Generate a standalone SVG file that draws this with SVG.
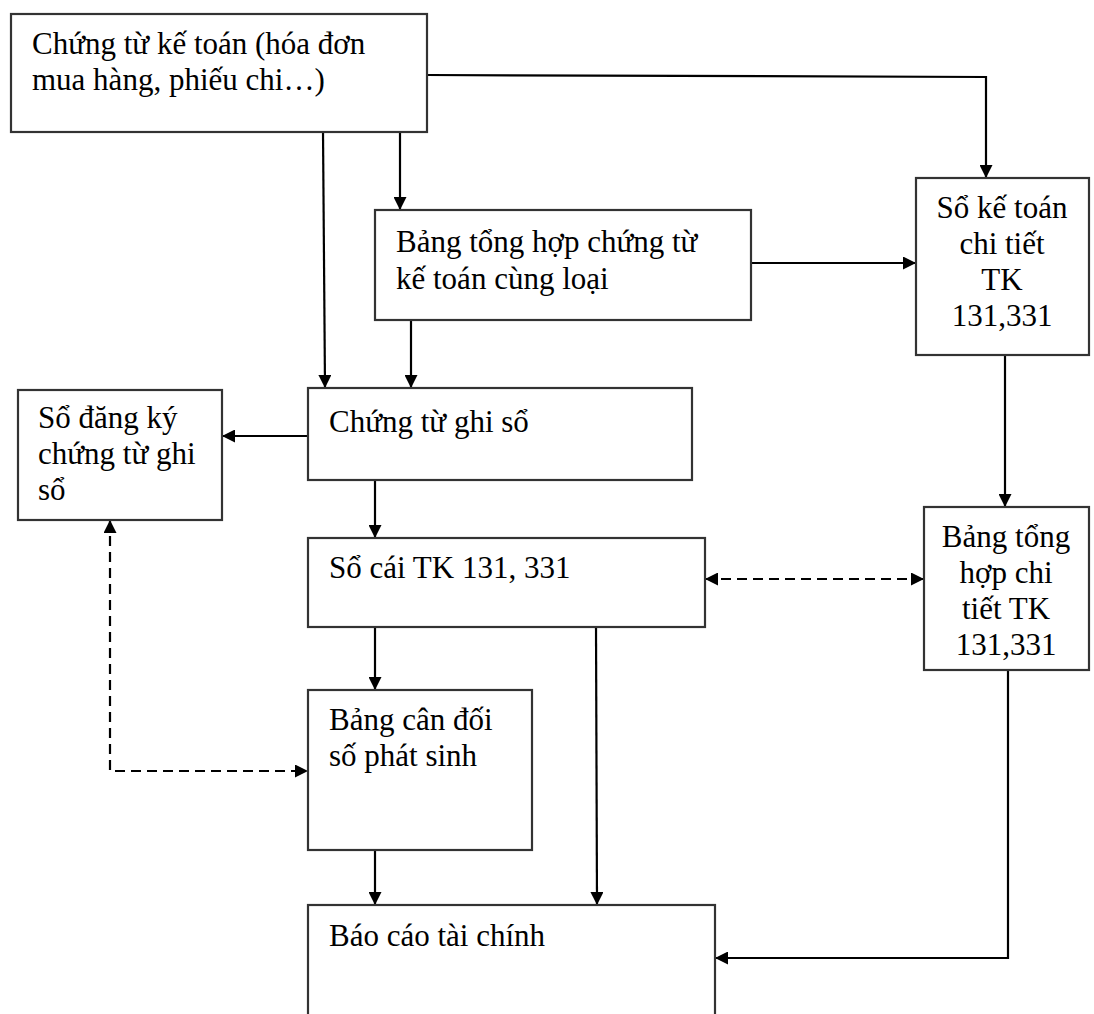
<svg xmlns="http://www.w3.org/2000/svg" width="1094" height="1014" viewBox="0 0 1094 1014">
<style>
.box{fill:#fff;stroke:#333;stroke-width:2.2}
.t{font-family:"Liberation Serif","Times New Roman",serif;font-size:31px;fill:#000}
.c{text-anchor:middle}
.ln{fill:none;stroke:#000;stroke-width:2.2}
.d{stroke-dasharray:10,6}
</style>
<defs>
<marker id="a" viewBox="0 0 10 10" refX="10" refY="5" markerWidth="14" markerHeight="13" markerUnits="userSpaceOnUse" orient="auto-start-reverse">
<path d="M0,0L10,5L0,10z" fill="#000"/>
</marker>
</defs>
<rect width="1094" height="1014" fill="#fff"/>
<g id="connectors">
<polyline class="ln" points="427,75 986,77 986,178" marker-end="url(#a)"/>
<line class="ln" x1="323" y1="132" x2="325" y2="388" marker-end="url(#a)"/>
<line class="ln" x1="400" y1="132" x2="400" y2="210" marker-end="url(#a)"/>
<line class="ln" x1="411" y1="320" x2="411" y2="388" marker-end="url(#a)"/>
<line class="ln" x1="751" y1="263" x2="916" y2="263" marker-end="url(#a)"/>
<line class="ln" x1="1005" y1="355" x2="1005" y2="507" marker-end="url(#a)"/>
<line class="ln" x1="308" y1="436" x2="222" y2="436" marker-end="url(#a)"/>
<line class="ln" x1="375" y1="480" x2="375" y2="538" marker-end="url(#a)"/>
<line class="ln d" x1="705" y1="579" x2="924" y2="579" marker-start="url(#a)" marker-end="url(#a)"/>
<line class="ln" x1="375" y1="627" x2="375" y2="690" marker-end="url(#a)"/>
<line class="ln" x1="596" y1="627" x2="597" y2="905" marker-end="url(#a)"/>
<line class="ln" x1="375" y1="850" x2="375" y2="905" marker-end="url(#a)"/>
<polyline class="ln" points="1008,670 1008,958 715,958" marker-end="url(#a)"/>
<polyline class="ln d" points="110,520 110,771 308,771" marker-start="url(#a)" marker-end="url(#a)"/>
</g>
<g id="n1"><rect class="box" x="11" y="14" width="416" height="118"/>
<text class="t" x="32" y="54">Chứng từ kế toán (hóa đơn</text>
<text class="t" x="32" y="90">mua hàng, phiếu chi…)</text></g>
<g id="n2"><rect class="box" x="375" y="210" width="376" height="110"/>
<text class="t" x="396" y="252">Bảng tổng hợp chứng từ</text>
<text class="t" x="396" y="289">kế toán cùng loại</text></g>
<g id="n3"><rect class="box" x="916" y="178" width="173" height="177"/>
<text class="t c" x="1002" y="218">Sổ kế toán</text>
<text class="t c" x="1002" y="254">chi tiết</text>
<text class="t c" x="1002" y="290">TK</text>
<text class="t c" x="1002" y="326">131,331</text></g>
<g id="n4"><rect class="box" x="18" y="390" width="204" height="130"/>
<text class="t" x="38" y="428">Sổ đăng ký</text>
<text class="t" x="38" y="464">chứng từ ghi</text>
<text class="t" x="38" y="500">sổ</text></g>
<g id="n5"><rect class="box" x="308" y="388" width="384" height="92"/>
<text class="t" x="329" y="432">Chứng từ ghi sổ</text></g>
<g id="n6"><rect class="box" x="308" y="538" width="397" height="89"/>
<text class="t" x="329" y="578">Sổ cái TK 131, 331</text></g>
<g id="n7"><rect class="box" x="924" y="507" width="165" height="163"/>
<text class="t c" x="1006" y="547">Bảng tổng</text>
<text class="t c" x="1006" y="583">hợp chi</text>
<text class="t c" x="1006" y="619">tiết TK</text>
<text class="t c" x="1006" y="655">131,331</text></g>
<g id="n8"><rect class="box" x="308" y="690" width="224" height="160"/>
<text class="t" x="329" y="730">Bảng cân đối</text>
<text class="t" x="329" y="766">số phát sinh</text></g>
<g id="n9"><rect class="box" x="308" y="905" width="407" height="130"/>
<text class="t" x="329" y="946">Báo cáo tài chính</text></g>
</svg>
